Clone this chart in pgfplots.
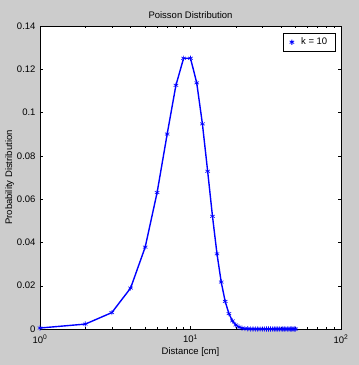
\documentclass[border=0pt]{standalone}
\usepackage{pgfplots}
\pgfplotsset{compat=1.18}
\usepackage{fontspec}
\setmainfont{Liberation Sans}
\definecolor{bggray}{RGB}{204,204,204}
\definecolor{mblue}{RGB}{0,0,255}
\begin{document}
\begin{tikzpicture}
\fill[bggray] (-40pt,-36pt) rectangle (319pt,329pt);
\begin{axis}[
  at={(0pt,0pt)}, anchor=south west,
  scale only axis, width=301pt, height=303pt,
  xmode=log, xmin=1, xmax=100,
  ymin=0, ymax=0.14,
  ytick={0,0.02,0.04,0.06,0.08,0.1,0.12,0.14},
  yticklabels={0,0.02,0.04,0.06,0.08,0.1,0.12,0.14},
  xtick={1,10,100},
  xticklabels={{10\textsuperscript{0}},{10\textsuperscript{1}},{10\textsuperscript{2}}},
  tick align=inside,
  tick pos=both,
  major tick length=3pt, minor tick length=2pt,
  tick style={black, line width=0.4pt},
  axis line style={black, line width=0.5pt},
  axis background/.style={fill=white},
  tick label style={font=\fontsize{9.5}{11}\selectfont},
  xticklabel style={yshift=-2pt},
  yticklabel style={xshift=-1pt},
  label style={font=\fontsize{9.5}{11}\selectfont},
  title style={font=\fontsize{9.5}{11}\selectfont, yshift=-2pt},
  title={Poisson Distribution},
  xlabel={Distance [cm]},
  ylabel={Probability Distribution},
  xlabel style={yshift=2pt},
  ylabel style={yshift=-4pt},
  legend style={font=\fontsize{9.5}{11}\selectfont, draw=black, line width=0.6pt, at={(0.982,0.978)}, anchor=north east, inner xsep=6pt, inner ysep=3pt},
  legend cell align=left,
]
\addplot[mblue, line width=1.4pt, mark=asterisk, mark size=2.6pt, mark options={line width=0.6pt}, forget plot] coordinates {
(1,0.000454) (2,0.002270) (3,0.007567) (4,0.018917) (5,0.037833)
(6,0.063055) (7,0.090079) (8,0.112599) (9,0.125110) (10,0.125110)
(11,0.113736) (12,0.094780) (13,0.072908) (14,0.052077) (15,0.034718)
(16,0.021699) (17,0.012764) (18,0.007091) (19,0.003732) (20,0.001866)
(21,0.000889) (22,0.000404) (23,0.000176) (24,0.000073) (25,0.000029)
(26,0.000011) (27,0.000004) (28,0.0000015) (29,0.0000005) (30,0.0000002)
(31,0) (32,0) (33,0) (34,0) (35,0) (36,0) (37,0) (38,0) (39,0) (40,0)
(41,0) (42,0) (43,0) (44,0) (45,0) (46,0) (47,0) (48,0) (49,0) (50,0)
};
\addlegendimage{only marks, mblue, mark=asterisk, mark size=2.6pt, mark options={line width=0.8pt}}
\addlegendentry{\hspace{5pt}k = 10}
\end{axis}
\end{tikzpicture}
\end{document}
